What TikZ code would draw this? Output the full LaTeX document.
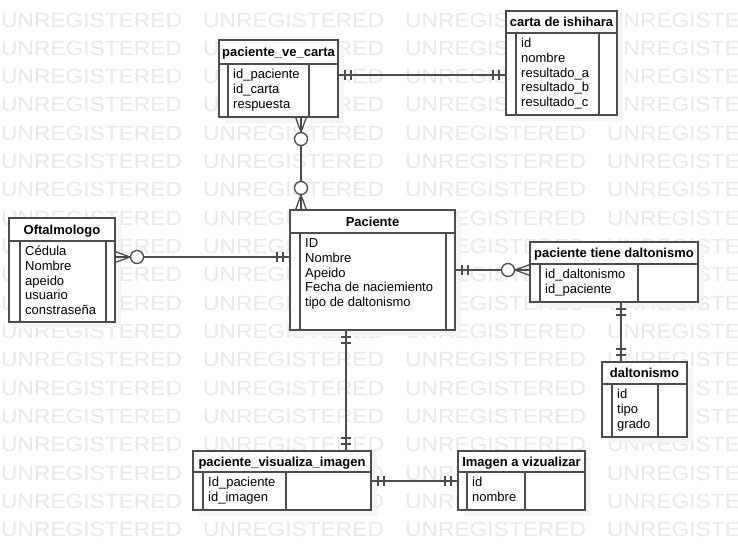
\documentclass[tikz,border=0pt]{standalone}
\usepackage{fontspec}
\setmainfont{Liberation Sans}
\usetikzlibrary{calc}

\definecolor{edge}{gray}{0.3}
\definecolor{wmark}{gray}{0.91}
\definecolor{shadowc}{gray}{0.955}

\tikzset{
  entbox/.style={draw=edge, line width=1.3pt, fill=white, rectangle,
    inner sep=0pt, outer sep=0pt, anchor=north west},
  divider/.style={draw=edge, line width=1.3pt},
  title/.style={font=\fontsize{13}{15}\selectfont\bfseries, inner sep=0pt, anchor=base},
  attr/.style={font=\fontsize{13}{15}\selectfont, inner sep=0pt, anchor=base west},
  link/.style={draw=edge, line width=1.3pt},
  wm/.style={font=\fontsize{20.5}{24}\selectfont, text=wmark, inner sep=0pt,
    anchor=base west, xscale=1.11},
}

% entity table: name, x, y, width, height, header height, inner left, inner right, title
\newcommand\entity[9]{%
  \fill[shadowc] (#2+6,#3+6) rectangle ++(#4,#5);
  \node[entbox, minimum width=#4pt, minimum height=#5pt] (#1) at (#2,#3) {};
  \draw[divider] ($(#1.north west)+(0,#6)$) -- ($(#1.north east)+(0,#6)$);
  \draw[divider] ($(#1.north west)+(#7,#6)$) -- ($(#1.south west)+(#7,0)$);
  \draw[divider] ($(#1.north west)+(#8,#6)$) -- ($(#1.south west)+(#8,0)$);
  \node[title] (#1-title) at ($(#1.north)+(0,#6/2+4.7)$) {#9};
}

% attribute rows: name, header height, inner left, list
\newcommand\attrs[4]{%
  \foreach \t [count=\i from 0] in {#4}
    \node[attr] (#1-a\i) at ($(#1.north west)+(#3+5,#2+14.5+14.8*\i)$) {\t};
}

% exactly-one end: two bars
\newcommand\onlyone[2]{%
  \begin{scope}[shift={(#1)}, rotate=#2]
    \draw[link] (7,-5) -- (7,5) (13,-5) -- (13,5);
  \end{scope}}

% zero-or-many end: crow's foot and circle
\newcommand\zeromany[2]{%
  \begin{scope}[shift={(#1)}, rotate=#2]
    \draw[link] (0,-5.5) -- (15,0) -- (0,5.5);
    \draw[link, fill=white] (22,0) circle[radius=6.5pt];
  \end{scope}}

\begin{document}
\begin{tikzpicture}[x=1pt,y=-1pt]
  \useasboundingbox (0,0) rectangle (738,550);
  \clip (0,0) rectangle (738,550);
  \fill[white] (0,0) rectangle (738,550);

  % watermark
  \foreach \r in {0,...,18}
    \foreach \c in {0,...,3}
      \node[wm] (wm-\r-\c) at (1+202*\c, 27+28.33*\r) {UNREGISTERED};

  % entities
  \entity{pvc}{219}{40}{119}{77}{24}{9}{90}{paciente\_ve\_carta}
  \attrs{pvc}{24}{9}{id\_paciente, id\_carta, respuesta}

  \entity{carta}{506}{11}{111}{104}{22}{10}{93}{carta de ishihara}
  \attrs{carta}{22}{10}{id, nombre, resultado\_a, resultado\_b, resultado\_c}

  \entity{oft}{9}{218}{106}{104}{23}{11}{97}{Oftalmologo}
  \attrs{oft}{23}{11}{Cédula, Nombre, apeido, usuario, constraseña}

  \entity{pac}{290}{210}{165}{120}{23}{10}{156}{Paciente}
  \attrs{pac}{23}{10}{ID, Nombre, Apeido, Fecha de naciemiento, tipo de daltonismo}

  \entity{ptd}{530}{242}{168}{60}{22}{10}{108}{paciente tiene daltonismo}
  \attrs{ptd}{22}{10}{id\_daltonismo, id\_paciente}

  \entity{dal}{602}{362}{85}{75}{22}{10}{56}{daltonismo}
  \attrs{dal}{22}{10}{id, tipo, grado}

  \entity{pvi}{193}{451}{178}{59}{21}{10}{93}{paciente\_visualiza\_imagen}
  \attrs{pvi}{21}{10}{Id\_paciente, id\_imagen}

  \entity{img}{458}{451}{127}{59}{21}{9}{67}{Imagen a vizualizar}
  \attrs{img}{21}{9}{id, nombre}

  % connector end points
  \coordinate (e1a) at ($(pvc.north east)+(0,35)$);
  \coordinate (e1b) at ($(carta.north west)+(0,64)$);
  \coordinate (e2a) at ($(pvc.south west)+(82,0)$);
  \coordinate (e2b) at ($(pac.north west)+(11,0)$);
  \coordinate (e3a) at ($(oft.north east)+(0,39)$);
  \coordinate (e3b) at ($(pac.north west)+(0,47)$);
  \coordinate (e4a) at ($(pac.north east)+(0,60)$);
  \coordinate (e4b) at ($(ptd.north west)+(0,28)$);
  \coordinate (e5a) at ($(ptd.south west)+(91,0)$);
  \coordinate (e5b) at ($(dal.north west)+(19,0)$);
  \coordinate (e6a) at ($(pac.south west)+(56,0)$);
  \coordinate (e6b) at ($(pvi.north west)+(153,0)$);
  \coordinate (e7a) at ($(pvi.north east)+(0,30)$);
  \coordinate (e7b) at ($(img.north west)+(0,30)$);

  % relationships
  \draw[link] (e1a) -- (e1b);
  \onlyone{e1a}{0}  \onlyone{e1b}{180}

  \draw[link] (e2a) -- (e2b);
  \zeromany{e2a}{-90}  \zeromany{e2b}{90}

  \draw[link] (e3a) -- (e3b);
  \zeromany{e3a}{0}  \onlyone{e3b}{180}

  \draw[link] (e4a) -- (e4b);
  \onlyone{e4a}{0}  \zeromany{e4b}{180}

  \draw[link] (e5a) -- (e5b);
  \onlyone{e5a}{-90}  \onlyone{e5b}{90}

  \draw[link] (e6a) -- (e6b);
  \onlyone{e6a}{-90}  \onlyone{e6b}{90}

  \draw[link] (e7a) -- (e7b);
  \onlyone{e7a}{0}  \onlyone{e7b}{180}
\end{tikzpicture}
\end{document}
